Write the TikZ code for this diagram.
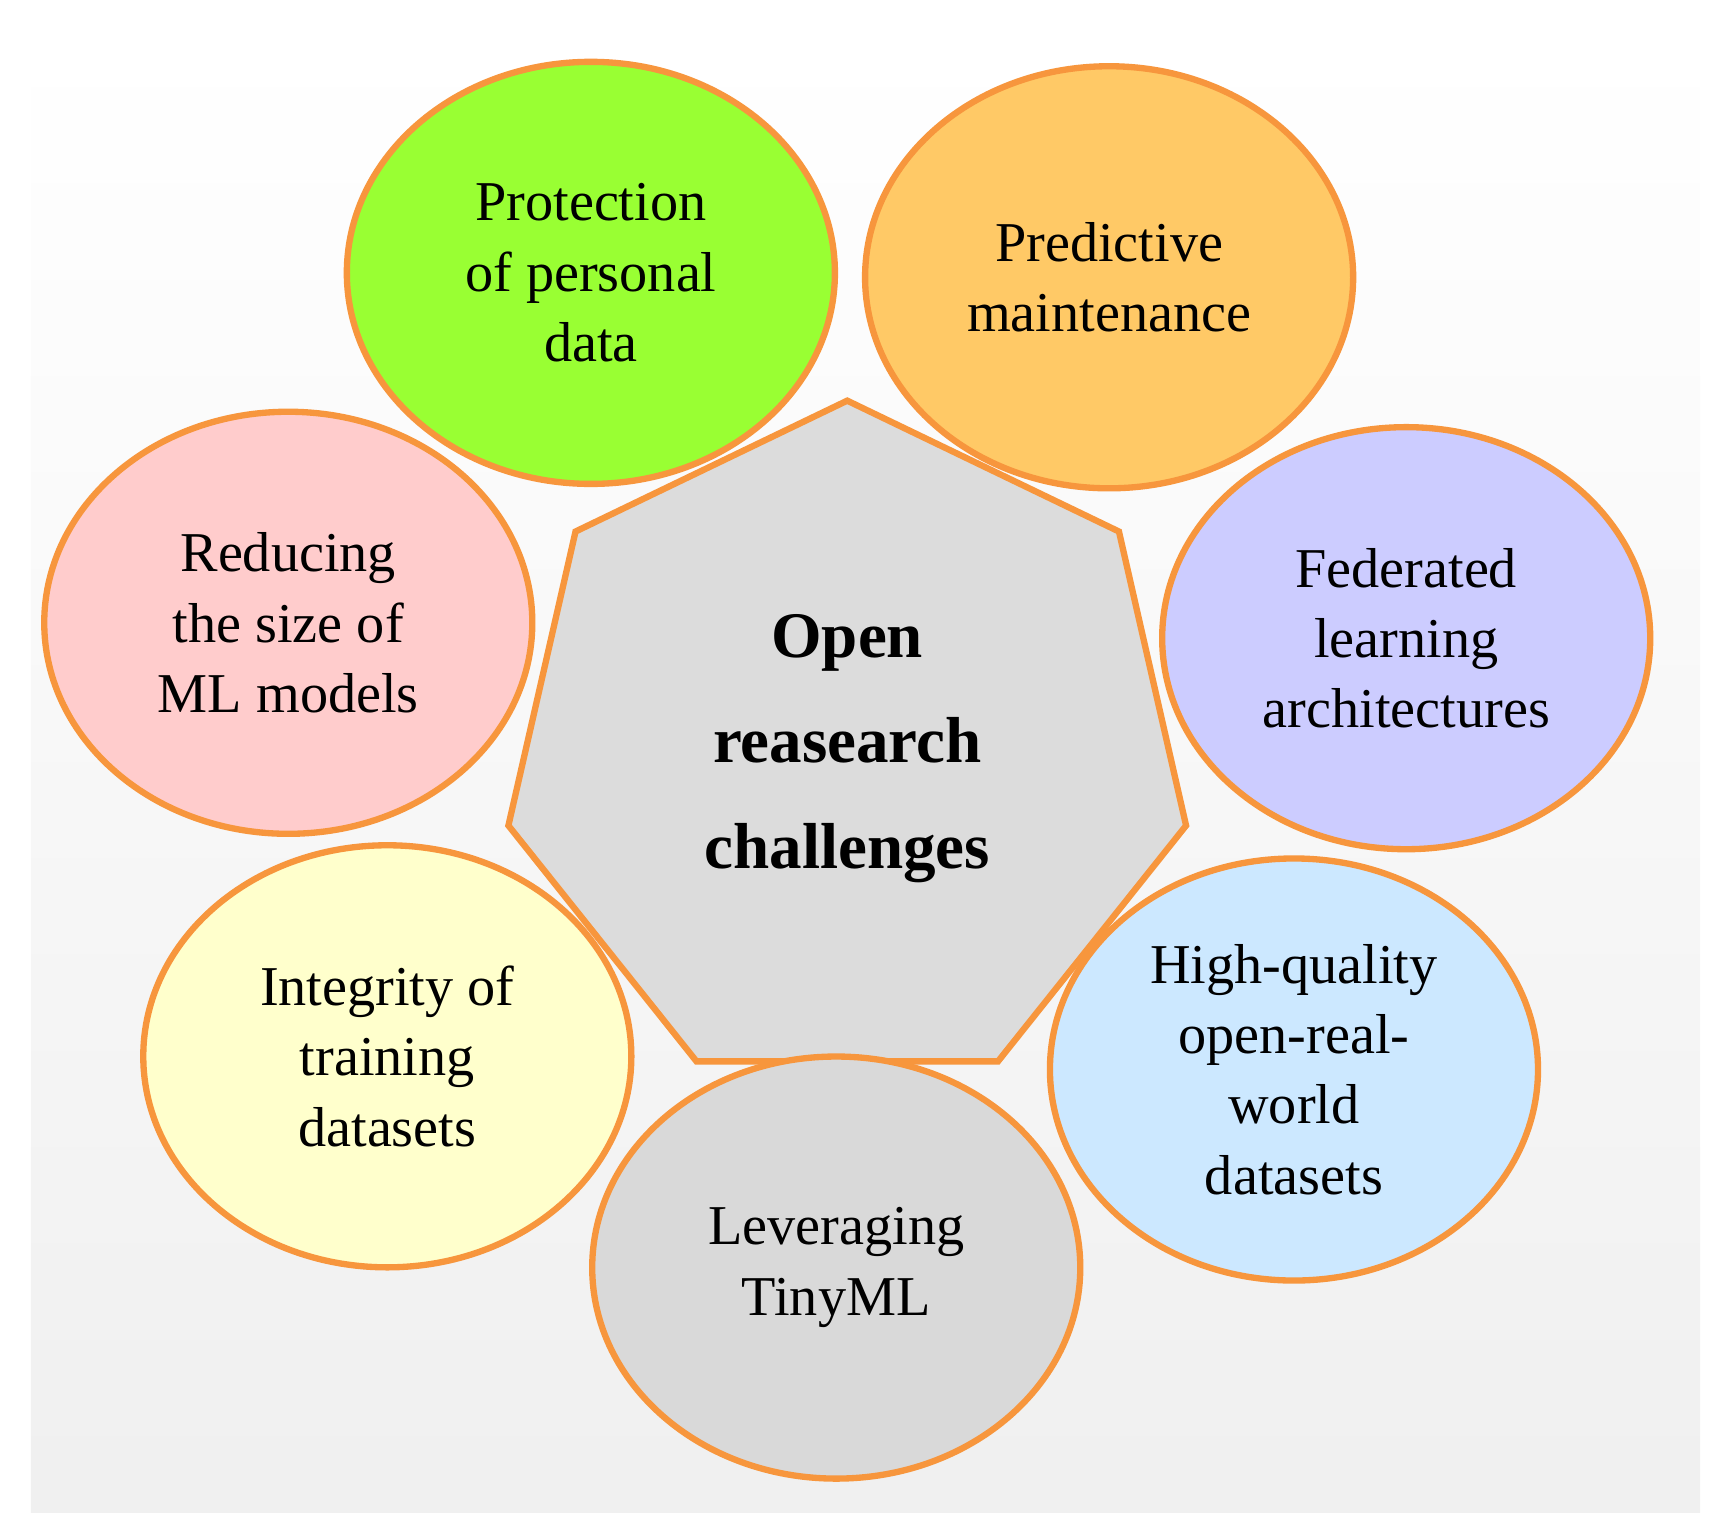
\documentclass[tikz,border=0pt]{standalone}
\usepackage{fontspec}
\setmainfont{Liberation Serif}
\usetikzlibrary{shapes.geometric}
\definecolor{rim}{HTML}{F7963D}
\definecolor{hub}{HTML}{DCDCDC}
\begin{document}
\begin{tikzpicture}[x=0.011cm,y=-0.011cm,
  topic/.style={ellipse, draw=rim, line width=1.8pt, minimum width=4.88cm, minimum height=4.22cm,
    inner sep=0pt, align=center, font=\fontsize{16}{20}\selectfont},
  core/.style={regular polygon, regular polygon sides=7, draw=rim, line width=1.8pt, fill=hub,
    minimum size=6.95cm, inner sep=0pt, align=center, font=\bfseries\fontsize{18.5}{30}\selectfont}]
  % Background
  \useasboundingbox (0,0) rectangle (1555,1390);
  \shade[top color=white, bottom color=black!6] (28,35) rectangle (1545,1375);
  % Hub
  \node[core] (hub) at (770,680) {Open\\reasearch\\challenges};
  % Topics
  \node[topic, fill={rgb,255:red,153;green,255;blue,51}] (privacy) at (537,248) {Protection\\of personal\\data};
  \node[topic, fill={rgb,255:red,255;green,201;blue,102}] (maint) at (1008,252) {Predictive\\maintenance};
  \node[topic, fill={rgb,255:red,204;green,204;blue,255}] (fed) at (1278,580) {Federated\\learning\\architectures};
  \node[topic, fill={rgb,255:red,204;green,232;blue,255}] (data) at (1176,972) {High-quality\\open-real-\\world\\datasets};
  \node[topic, fill={rgb,255:red,217;green,217;blue,217}] (tiny) at (760,1152) {Leveraging\\TinyML};
  \node[topic, fill={rgb,255:red,255;green,255;blue,204}] (integ) at (352,960) {Integrity of\\training\\datasets};
  \node[topic, fill={rgb,255:red,255;green,204;blue,204}] (size) at (262,566) {Reducing\\the size of\\ML models};
\end{tikzpicture}
\end{document}
